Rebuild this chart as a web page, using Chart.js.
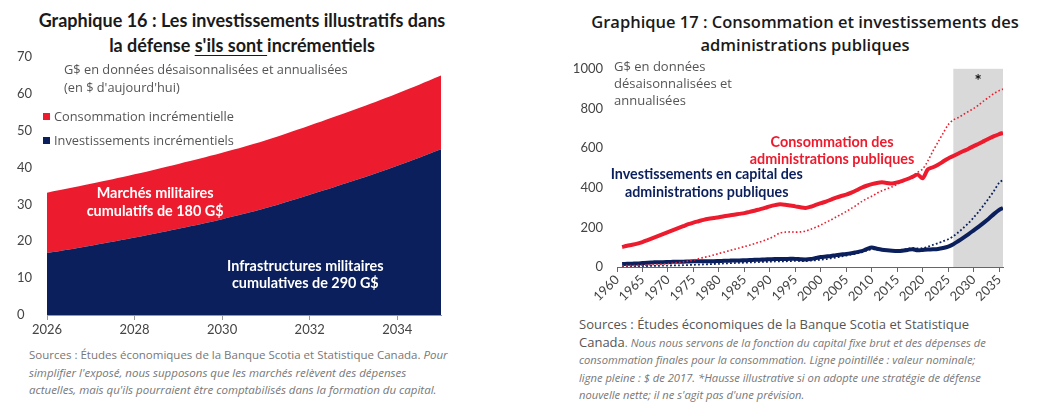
<!DOCTYPE html>
<html lang="fr">
<head>
<meta charset="utf-8">
<script src="https://cdn.jsdelivr.net/npm/chart.js@4.4.1/dist/chart.umd.min.js"></script>
<style>
  body { margin: 0; width: 1047px; height: 406px; background: #fff; font-family: "Lato", "Open Sans", sans-serif; color: #222; position: relative; overflow: hidden; }
  .abs { position: absolute; }
  .title { font-weight: 700; font-size: 18px; line-height: 25px; text-align: center; color: #1a1a1a; }
  .title u { text-decoration-thickness: 1px; text-underline-offset: 3px; }
  .sub { font-family: "Open Sans", sans-serif; font-size: 12.8px; line-height: 18px; color: #555; }
  .legend div { font-family: "Open Sans", sans-serif; font-size: 12.8px; line-height: 24px; color: #555; }
  .legend span { display: inline-block; width: 7px; height: 7px; margin-right: 4px; vertical-align: 1px; }
  .src { font-family: "Open Sans", sans-serif; font-size: 11.2px; line-height: 17.5px; color: #777; }
  .src i { font-style: italic; }
</style>
</head>
<body>
<!-- Graphique 16 -->
<div class="abs title" style="left:20px; top:8px; width:444px;">Graphique 16 : Les investissements illustratifs dans<br>la défense <u>s'ils sont </u>incrémentiels</div>
<div class="abs" style="left:0; top:45px;"><canvas id="chart16" width="470" height="300"></canvas></div>
<div class="abs sub" style="left:64px; top:60px;">G$ en données désaisonnalisées et annualisées<br>(en $ d'aujourd'hui)</div>
<div class="abs legend" style="left:43px; top:104px;">
  <div><span style="background:#ec1c2e"></span>Consommation incrémentielle</div>
  <div><span style="background:#0b1f5c"></span>Investissements incrémentiels</div>
</div>
<div class="abs src" style="left:29px; top:346px; width:470px; font-size:11.5px;">Sources : Études économiques de la Banque Scotia et Statistique Canada. <i>Pour<br>simplifier l'exposé, nous supposons que les marchés relèvent des dépenses<br>actuelles, mais qu'ils pourraient être comptabilisés dans la formation du capital.</i></div>

<!-- Graphique 17 -->
<div class="abs title" style="left:575px; top:10px; width:460px; font-family:'Open Sans', sans-serif; font-weight:600; font-size:16.5px; line-height:23px;">Graphique 17 : Consommation et investissements des<br>administrations publiques</div>
<div class="abs" style="left:560px; top:55px;"><canvas id="chart17" width="487" height="255"></canvas></div>
<div class="abs sub" style="left:614px; top:58px; line-height:17px; font-size:13px;">G$ en données<br>désaisonnalisées et<br>annualisées</div>
<div class="abs src" style="left:579px; top:316px; width:468px; line-height:17.6px;"><span style="font-size:13px; color:#555;">Sources : Études économiques de la Banque Scotia et Statistique<br>Canada</span>. <i>Nous nous servons de la fonction du capital fixe brut et des dépenses de<br>consommation finales pour la consommation. Ligne pointillée : valeur nominale;<br>ligne pleine : $ de 2017. *Hausse illustrative si on adopte une stratégie de défense<br>nouvelle nette; il ne s'agit pas d'une prévision.</i></div>

<script>
const RED = "#ec1c2e";
const NAVY = "#0b1f5c";

// ---- Graphique 16 data (G$) ----
const years16 = [2026, 2027, 2028, 2029, 2030, 2031, 2032, 2033, 2034, 2035];
const invest16 = [16.8, 18.8, 21.0, 23.4, 26.0, 29.0, 32.6, 36.4, 40.5, 45.0];
const conso16 = [16.4, 16.8, 17.2, 17.6, 18.0, 18.4, 18.8, 19.2, 19.6, 20.0];
const xTicks16 = [2026, 2028, 2030, 2032, 2034];
const yTicks16 = [0, 10, 20, 30, 40, 50, 60, 70];

// ---- Graphique 17 data (G$) ----
const years17 = [1961, 1962, 1963, 1964, 1965, 1966, 1967, 1968, 1969, 1970,
  1971, 1972, 1973, 1974, 1975, 1976, 1977, 1978, 1979, 1980,
  1981, 1982, 1983, 1984, 1985, 1986, 1987, 1988, 1989, 1990,
  1991, 1992, 1993, 1994, 1995, 1996, 1997, 1998, 1999, 2000,
  2001, 2002, 2003, 2004, 2005, 2006, 2007, 2008, 2009, 2010,
  2011, 2012, 2013, 2014, 2015, 2016, 2017, 2018, 2019, 2020,
  2021, 2022, 2023, 2024, 2025, 2026, 2027, 2028, 2029, 2030,
  2031, 2032, 2033, 2034, 2035, 2035.75];
const consoReal = [101, 107, 112, 118, 126, 136, 146, 156, 166, 176,
  186, 196, 206, 216, 224, 231, 238, 243, 247, 251,
  256, 260, 264, 268, 272, 278, 284, 291, 298, 306,
  312, 316, 314, 310, 306, 301, 298, 304, 313, 322,
  330, 340, 350, 358, 365, 375, 387, 400, 410, 418,
  424, 427, 424, 421, 427, 435, 444, 455, 466, 448,
  492, 503, 516, 532, 548, 560, 573, 585, 597, 610,
  622, 635, 648, 660, 670, 677];
const consoNominal = [6, 7, 7, 8, 9, 10, 12, 13, 15, 17,
  19, 22, 26, 30, 35, 42, 48, 54, 61, 68,
  75, 82, 89, 96, 103, 110, 118, 126, 135, 145,
  158, 172, 176, 177, 176, 177, 181, 190, 200, 212,
  225, 238, 252, 266, 280, 296, 312, 330, 345, 357,
  372, 385, 395, 405, 418, 430, 443, 460, 478, 495,
  535, 585, 630, 675, 718, 742, 754, 770, 785, 800,
  818, 838, 857, 876, 890, 898];
const investReal = [15, 16, 17, 18, 20, 22, 23, 24, 24, 25,
  26, 27, 27, 28, 29, 29, 29, 29, 29, 30,
  31, 32, 33, 33, 34, 35, 36, 37, 38, 39,
  40, 40, 40, 41, 41, 39, 38, 40, 45, 50,
  53, 56, 60, 63, 66, 70, 75, 80, 90, 98,
  92, 87, 84, 82, 81, 82, 86, 90, 84, 86,
  88, 89, 91, 96, 103, 115, 131, 148, 166, 185,
  204, 224, 245, 268, 288, 298];
const investNominal = [3, 3, 4, 4, 5, 5, 6, 6, 7, 7,
  8, 8, 9, 10, 11, 12, 13, 14, 15, 16,
  18, 19, 20, 21, 22, 23, 24, 25, 26, 27,
  28, 29, 29, 30, 31, 30, 30, 32, 34, 37,
  40, 44, 48, 53, 58, 63, 68, 74, 82, 90,
  88, 86, 84, 84, 85, 87, 92, 96, 94, 95,
  102, 112, 120, 130, 140, 155, 175, 198, 222, 250,
  280, 313, 348, 385, 425, 440];
const xTicks17 = [1960, 1965, 1970, 1975, 1980, 1985, 1990, 1995, 2000, 2005, 2010, 2015, 2020, 2025, 2030, 2035];
const yTicks17 = [0, 200, 400, 600, 800, 1000];
const shade17 = [2026, 2035.75];

const pts = (xs, ys) => ys.map((y, i) => ({ x: xs[i], y }));
const fixedTicks = (list) => (s) => { s.ticks = list.map((v) => ({ value: v })); };
const tickFont = { family: "Lato", size: 13 };
const tickColor = "#444";

// text labels drawn on the plot, anchored in data units
const labelsPlugin = {
  id: "plotLabels",
  afterDatasetsDraw(chart, args, opts) {
    const { ctx, scales } = chart;
    (opts.items || []).forEach((it) => {
      ctx.save();
      ctx.font = it.font;
      ctx.fillStyle = it.color;
      ctx.textAlign = "center";
      ctx.textBaseline = "middle";
      const x = scales.x.getPixelForValue(it.x);
      const y = scales.y.getPixelForValue(it.y);
      it.lines.forEach((line, i) => ctx.fillText(line, x, y + i * it.lh));
      ctx.restore();
    });
  },
};

const shadePlugin = {
  id: "shade",
  beforeDatasetsDraw(chart, args, opts) {
    if (!opts.range) return;
    const { ctx, scales } = chart;
    const x0 = scales.x.getPixelForValue(opts.range[0]);
    const x1 = scales.x.getPixelForValue(opts.range[1]);
    const y0 = scales.y.getPixelForValue(scales.y.max);
    const y1 = scales.y.getPixelForValue(0);
    ctx.save();
    ctx.fillStyle = "#d9d9d9";
    ctx.fillRect(x0, y0, x1 - x0, y1 - y0);
    ctx.fillStyle = "#111";
    ctx.font = "bold 17px Lato";
    ctx.textAlign = "center";
    ctx.textBaseline = "middle";
    ctx.fillText("*", (x0 + x1) / 2, y0 + 13);
    ctx.restore();
  },
};

new Chart(document.getElementById("chart16"), {
  type: "line",
  data: {
    datasets: [
      { label: "Investissements incrémentiels", data: pts(years16, invest16), borderColor: NAVY, backgroundColor: NAVY, fill: "origin", borderWidth: 0, pointRadius: 0, tension: 0.4 },
      { label: "Consommation incrémentielle", data: pts(years16, conso16), borderColor: RED, backgroundColor: RED, fill: "-1", borderWidth: 0, pointRadius: 0, tension: 0.4 },
    ],
  },
  options: {
    responsive: false,
    animation: false,
    layout: { padding: { top: 12, right: 29, left: 17, bottom: 0 } },
    plugins: {
      legend: { display: false },
      tooltip: { enabled: false },
      plotLabels: {
        items: [
          { x: 2028.47, y: 33, lines: ["Marchés militaires", "cumulatifs de 180 G$"], lh: 18, color: "#fff", font: "bold 14.4px Lato" },
          { x: 2031.9, y: 13.3, lines: ["Infrastructures militaires", "cumulatives de 290 G$"], lh: 17, color: "#fff", font: "bold 14.4px Lato" },
        ],
      },
    },
    scales: {
      x: {
        type: "linear", min: years16[0], max: years16[years16.length - 1],
        grid: { display: true, drawOnChartArea: false, drawTicks: true, tickLength: 5, color: "#999" },
        border: { display: true, color: "#999" },
        afterBuildTicks: fixedTicks(xTicks16),
        ticks: { color: tickColor, font: tickFont, padding: 2, autoSkip: false, callback: (v) => String(v) },
        afterFit: (s) => { s.height = 30; },
      },
      y: {
        stacked: true, min: 0, max: yTicks16[yTicks16.length - 1],
        grid: { display: false },
        border: { display: false },
        afterBuildTicks: fixedTicks(yTicks16),
        ticks: { color: tickColor, font: tickFont, crossAlign: "far", padding: 0 },
        afterFit: (s) => { s.width = 30; },
      },
    },
  },
  plugins: [labelsPlugin],
});

new Chart(document.getElementById("chart17"), {
  type: "line",
  data: {
    datasets: [
      { label: "Consommation ($ de 2017)", data: pts(years17, consoReal), borderColor: RED, borderWidth: 4, pointRadius: 0, tension: 0.3 },
      { label: "Consommation (nominal)", data: pts(years17, consoNominal), borderColor: RED, borderWidth: 1.6, borderDash: [1.6, 2.2], pointRadius: 0, tension: 0.3 },
      { label: "Investissements ($ de 2017)", data: pts(years17, investReal), borderColor: NAVY, borderWidth: 4, pointRadius: 0, tension: 0.3 },
      { label: "Investissements (nominal)", data: pts(years17, investNominal), borderColor: NAVY, borderWidth: 1.8, borderDash: [1.8, 2.2], pointRadius: 0, tension: 0.3 },
    ],
  },
  options: {
    responsive: false,
    animation: false,
    layout: { padding: { top: 12, right: 44, left: 0, bottom: 0 } },
    plugins: {
      legend: { display: false },
      tooltip: { enabled: false },
      shade: { range: shade17 },
      plotLabels: {
        items: [
          { x: 2002.2, y: 630, lines: ["Consommation des", "administrations publiques"], lh: 17, color: RED, font: "bold 14.4px Lato" },
          { x: 1977.6, y: 465, lines: ["Investissements en capital des", "administrations publiques"], lh: 18, color: NAVY, font: "bold 14.3px Lato" },
        ],
      },
    },
    scales: {
      x: {
        type: "linear", min: 1960, max: shade17[1],
        grid: { display: true, drawOnChartArea: false, drawTicks: true, tickLength: 5, color: "#666" },
        border: { display: true, color: "#666" },
        afterBuildTicks: fixedTicks(xTicks17),
        ticks: { color: tickColor, font: tickFont, minRotation: 45, maxRotation: 45, padding: 0, autoSkip: false, callback: (v) => String(v) },
        afterFit: (s) => { s.height = 43; },
      },
      y: {
        min: 0, max: 1000,
        grid: { display: false },
        border: { display: false },
        afterBuildTicks: fixedTicks(yTicks17),
        ticks: { color: tickColor, font: tickFont, padding: 6, callback: (v) => String(v) },
        afterFit: (s) => { s.width = 57; },
      },
    },
  },
  plugins: [shadePlugin, labelsPlugin],
});
</script>
</body>
</html>
